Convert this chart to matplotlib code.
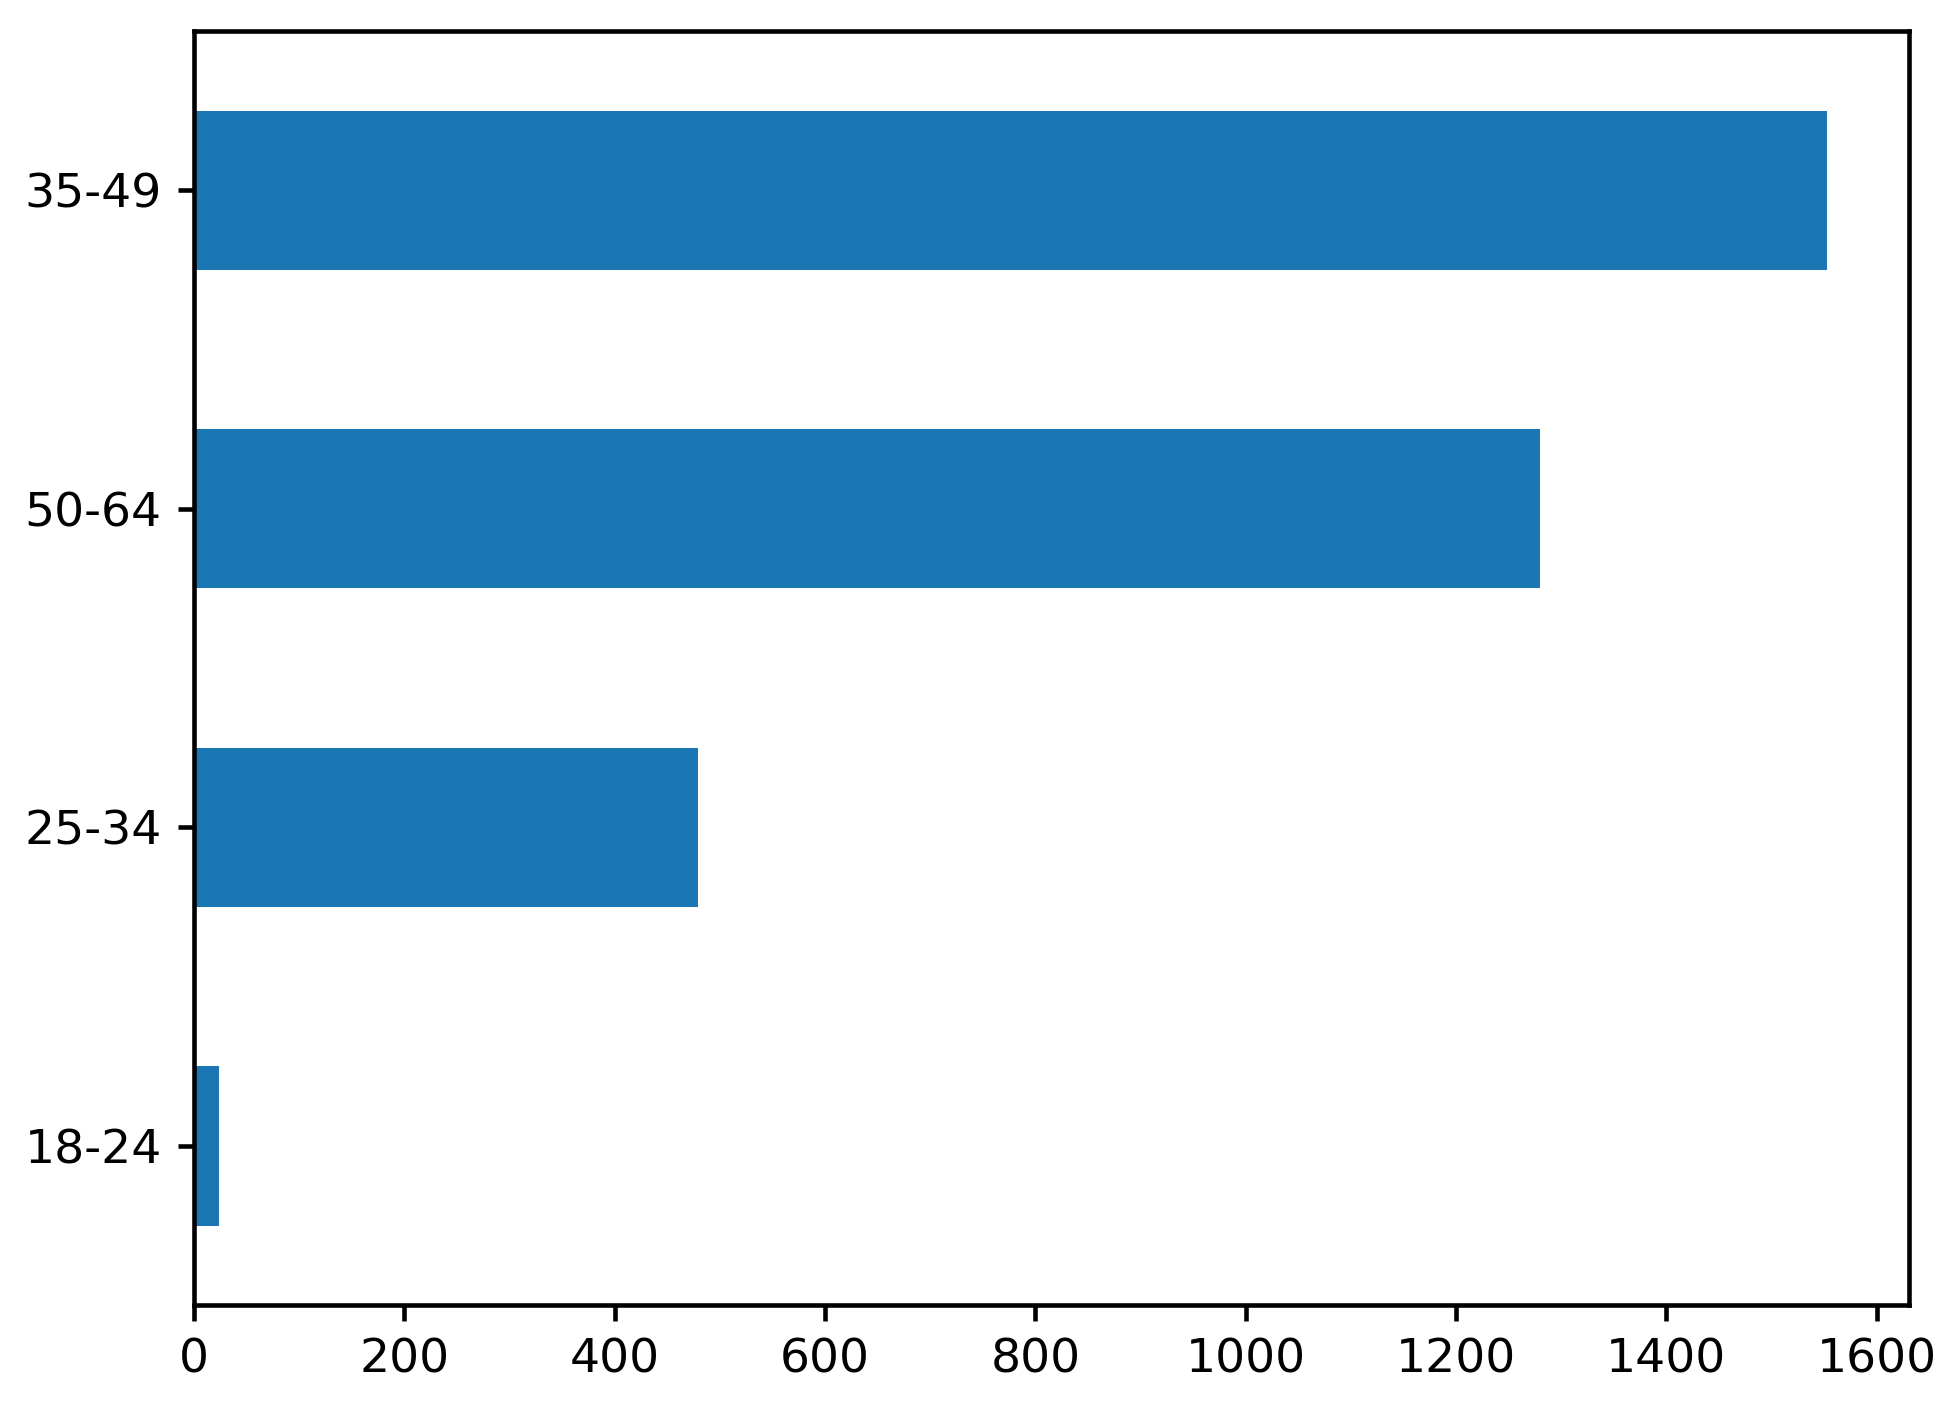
import numpy as np
import pandas as pd
from matplotlib import pyplot as plt

# age group counts, sorted ascending like the original value_counts plot
age_groups = ['18-24', '25-34', '50-64', '35-49']
counts = [24, 479, 1280, 1553]

plt.rcParams['font.size'] = 10.3
plt.rcParams['axes.linewidth'] = 1.0
plt.rcParams['xtick.major.width'] = 1.0
plt.rcParams['ytick.major.width'] = 1.0

dpi = 330
fig = plt.figure(figsize=(1943 / dpi, 1408 / dpi), dpi=dpi)
ax = fig.add_axes([0.0998, 0.073, 0.8827, 0.905])

s = pd.Series(counts, index=age_groups)
s.plot.barh(ax=ax, color='#1a77b3')

ax.set_ylabel('')

fig.savefig('out.png', dpi=dpi)
